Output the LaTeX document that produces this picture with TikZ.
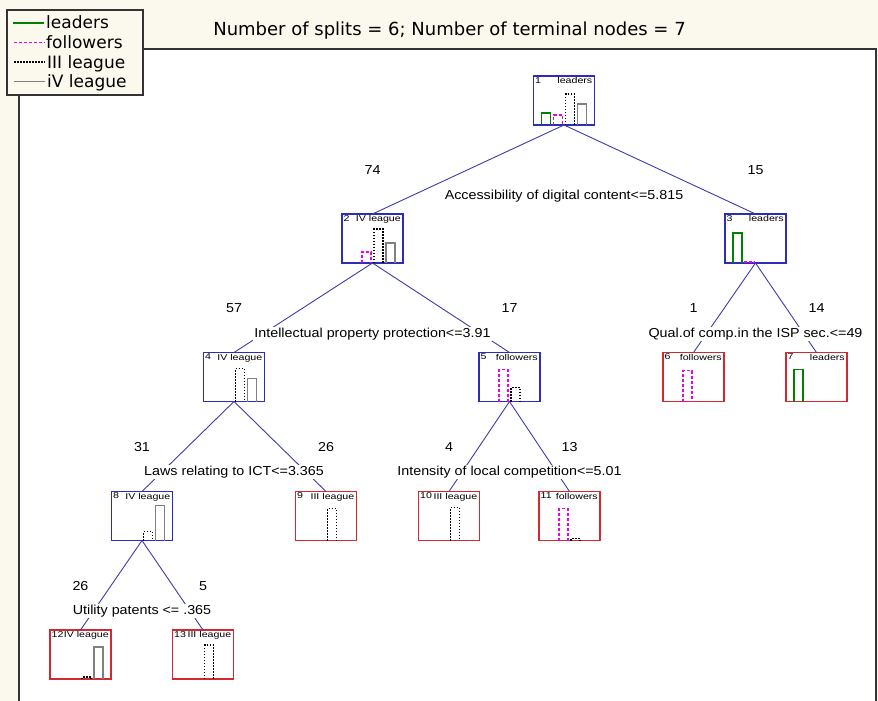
\documentclass[tikz,border=0pt]{standalone}
\usepackage{fontspec}
\usepackage{graphicx}
\setmainfont{Liberation Sans}
\newfontfamily\dvs{DejaVu Sans}
\definecolor{cream}{RGB}{251,248,238}
\definecolor{tblue}{RGB}{45,45,185}
\definecolor{cblue}{RGB}{60,60,175}
\definecolor{tred}{RGB}{210,40,50}
\definecolor{lgreen}{RGB}{0,130,0}
\definecolor{lmag}{RGB}{235,0,235}
\definecolor{lgray}{RGB}{128,128,128}
\tikzset{
 tbox/.style={draw, line width=1.3pt, minimum width=61pt, minimum height=49pt, inner sep=0pt, outer sep=0pt, fill=white},
 innerbox/.style={tbox, draw=tblue},
 leafbox/.style={tbox, draw=tred},
 conn/.style={draw=cblue, line width=0.9pt},
 split/.style={fill=white, inner sep=1pt, font=\fontsize{13}{15}\selectfont, anchor=base},
 cnt/.style={inner sep=0pt, font=\fontsize{13}{15}\selectfont, anchor=base},
 hnum/.style={inner sep=0pt, anchor=north west, font=\fontsize{8.5}{9}\selectfont},
 hname/.style={inner sep=0pt, anchor=north east, font=\fontsize{8.5}{9}\selectfont},
 gbar/.style={draw=lgreen, line width=1.1pt},
 mbar/.style={draw=lmag, line width=1.1pt, dash pattern=on 3pt off 2pt},
 kbar/.style={draw=black, line width=1.1pt, dash pattern=on 1.5pt off 1.5pt},
 abar/.style={draw=lgray, line width=1.1pt},
 legtext/.style={inner sep=0pt, anchor=base west, font=\dvs\fontsize{17}{19}\selectfont},
}
\newcommand{\bb}[4]{\draw[#4] ([xshift=#2pt]#1.south west) -- ++(0,-#3) -- ++(9,0) -- ++(0,#3);}
\newcommand{\hdr}[3]{%
 \node[hnum] (#1num) at ([xshift=1.5pt,yshift=-1.2pt]#1.north west) {\scalebox{1.25}[1]{#2}};
 \node[hname] (#1name) at ([xshift=-2pt,yshift=-1.2pt]#1.north east) {\scalebox{1.25}[1]{#3}};}
\newcommand{\splitlab}[2]{\node[split] (#1split) at ([yshift=-74pt]#1.south) {\scalebox{1.1}[1]{#2}};}
\newcommand{\cntlab}[2]{\node[cnt] (#1cnt) at ([yshift=40pt]#1.north) {\scalebox{1.1}[1]{#2}};}
\begin{document}
\begin{tikzpicture}[x=1pt,y=-1pt]
\useasboundingbox (0,0) rectangle (878,701);
\fill[cream] (0,0) rectangle (878,701);
\fill[white] (19,49) rectangle (876,701);
\draw[line width=1.3pt, black!80] (19,701) -- (19,49) -- (876,49) -- (876,701);
% legend
\draw[line width=1.3pt, black!80, fill=cream] (7,10) rectangle (143,95);
\draw[gbar,line width=1.3pt] (13,23) -- (44,23);
\draw[mbar,line width=1.3pt] (14,42.5) -- (45,42.5);
\draw[kbar,line width=1.3pt] (14,62) -- (45,62);
\draw[abar,line width=1.3pt] (14,81.5) -- (45,81.5);
\node[legtext] (lg1) at (46,29) {leaders};
\node[legtext] (lg2) at (46,48.5) {followers};
\node[legtext] (lg3) at (47,68) {III league};
\node[legtext] (lg4) at (47,87.5) {iV league};
% title
\node[inner sep=0pt, anchor=base, font=\dvs\fontsize{18}{20}\selectfont] (title) at (449.5,36) {Number of splits = 6; Number of terminal nodes = 7};
% boxes
\node[innerbox] (n1) at (564,100.5) {};
\node[innerbox] (n2) at (372.5,238.5) {};
\node[innerbox] (n3) at (755.5,238.5) {};
\node[innerbox] (n4) at (234,377) {};
\node[innerbox] (n5) at (509.5,377) {};
\node[leafbox] (n6) at (693.5,377) {};
\node[leafbox] (n7) at (816.5,377) {};
\node[innerbox] (n8) at (142,516) {};
\node[leafbox] (n9) at (326,516) {};
\node[leafbox] (n10) at (449,516) {};
\node[leafbox] (n11) at (569.5,516) {};
\node[leafbox] (n12) at (80.5,654.5) {};
\node[leafbox] (n13) at (203,654.5) {};
% connectors
\draw[conn] (n1.south) -- (n2.north);
\draw[conn] (n1.south) -- (n3.north);
\draw[conn] (n2.south) -- (n4.north);
\draw[conn] (n2.south) -- (n5.north);
\draw[conn] (n3.south) -- (n6.north);
\draw[conn] (n3.south) -- (n7.north);
\draw[conn] (n4.south) -- (n8.north);
\draw[conn] (n4.south) -- (n9.north);
\draw[conn] (n5.south) -- (n10.north);
\draw[conn] (n5.south) -- (n11.north);
\draw[conn] (n8.south) -- (n12.north);
\draw[conn] (n8.south) -- (n13.north);
% split labels
\splitlab{n1}{Accessibility of digital content<=5.815}
\splitlab{n2}{Intellectual property protection<=3.91}
\splitlab{n3}{Qual.of comp.in the ISP sec.<=49}
\splitlab{n4}{Laws relating to ICT<=3.365}
\splitlab{n5}{Intensity of local competition<=5.01}
\splitlab{n8}{Utility patents <= .365}
% counts
\cntlab{n2}{74}\cntlab{n3}{15}
\cntlab{n4}{57}\cntlab{n5}{17}\cntlab{n6}{1}\cntlab{n7}{14}
\cntlab{n8}{31}\cntlab{n9}{26}\cntlab{n10}{4}\cntlab{n11}{13}
\cntlab{n12}{26}\cntlab{n13}{5}
% headers
\hdr{n1}{1}{leaders}
\hdr{n2}{2}{IV league}
\hdr{n3}{3}{leaders}
\hdr{n4}{4}{IV league}
\hdr{n5}{5}{followers}
\hdr{n6}{6}{followers}
\hdr{n7}{7}{leaders}
\hdr{n8}{8}{IV league}
\hdr{n9}{9}{III league}
\hdr{n10}{10}{III league}
\hdr{n11}{11}{followers}
\hdr{n12}{12}{IV league}
\hdr{n13}{13}{III league}
% bars
\bb{n1}{8}{12}{gbar}\bb{n1}{20}{10}{mbar}\bb{n1}{32}{31}{kbar}\bb{n1}{44}{21}{abar}
\bb{n2}{20}{11}{mbar}\bb{n2}{32}{34}{kbar}\bb{n2}{44}{20}{abar}
\bb{n3}{8}{30}{gbar}\bb{n3}{20}{1}{mbar}
\bb{n4}{32}{33}{kbar}\bb{n4}{44}{23}{abar}
\bb{n5}{20}{32}{mbar}\bb{n5}{32}{14}{kbar}
\bb{n6}{20}{31}{mbar}
\bb{n7}{8}{32}{gbar}
\bb{n8}{32}{9}{kbar}\bb{n8}{44}{35}{abar}
\bb{n9}{32}{32}{kbar}
\bb{n10}{32}{33}{kbar}
\bb{n11}{20}{32}{mbar}\bb{n11}{32}{2}{kbar}
\bb{n12}{32}{2}{kbar}\bb{n12}{44}{32}{abar}
\bb{n13}{32}{34}{kbar}
\end{tikzpicture}
\end{document}
